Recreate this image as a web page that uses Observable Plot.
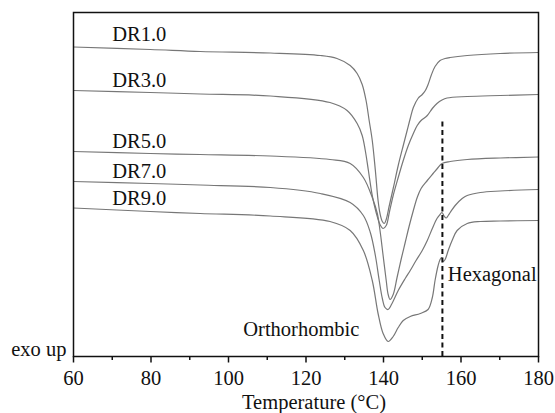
<!DOCTYPE html>
<html><head><meta charset="utf-8">
<script src="https://cdn.jsdelivr.net/npm/d3@7"></script>
<script src="https://cdn.jsdelivr.net/npm/@observablehq/plot@0.6"></script>
<style>body{margin:0;background:#fff} svg{display:block} svg text{font-family:"Liberation Serif","Times New Roman",serif !important}</style>
</head><body><div id="chart"></div>
<script>
// Temperature (°C), heat flow (a.u., exo up)
const seriesNames = ["DR1.0", "DR3.0", "DR5.0", "DR7.0", "DR9.0"];
const dr1 = [[60,30.95],[79.8,30.7],[92.7,30.5],[110.8,30.35],[123.7,30.1],[128.0,29.8],[131.4,29.1],[133.2,28.3],[134.5,27.2],[135.5,25.6],[136.3,23.6],[137.1,21.6],[137.9,18.6],[138.6,15.6],[139.1,14.3],[139.7,13.5],[140.2,13.3],[140.7,13.7],[141.5,15.1],[142.5,16.8],[143.8,19.1],[145.1,21.1],[146.1,22.6],[146.9,23.8],[147.7,24.9],[148.9,25.8],[150.0,26.2],[150.8,26.6],[151.5,27.2],[152.3,28.1],[153.3,29.0],[154.6,29.6],[155.9,29.8],[157.2,29.9],[161.6,30.1],[170.1,30.3],[180,30.4]];
const dr3 = [[60,26.6],[79.8,26.4],[92.7,26.25],[110.8,26.05],[126.2,25.4],[130.6,24.6],[133.2,23.3],[134.5,22.1],[135.3,20.6],[136.1,18.6],[137.1,16.1],[138.1,14.4],[139.1,13.2],[139.9,12.8],[140.7,13.1],[141.5,14.4],[142.5,16.1],[143.8,17.9],[145.1,19.6],[146.4,21.1],[147.7,22.3],[148.7,23.1],[149.7,23.6],[151.3,24.1],[152.6,24.8],[153.8,25.3],[155.1,25.65],[156.4,25.85],[161.6,26.0],[170.1,26.1],[180,26.2]];
const dr5 = [[60,20.5],[79.8,20.3],[92.7,20.2],[110.8,20.05],[126.2,19.7],[131.4,19.3],[134.8,17.9],[137.1,15.9],[138.4,14.3],[139.1,12.6],[139.9,10.1],[140.7,7.6],[141.2,6.2],[141.7,5.7],[142.5,6.2],[143.5,7.9],[144.6,9.8],[145.6,11.4],[146.6,13.0],[147.7,14.6],[148.7,15.9],[149.7,16.8],[151.3,17.6],[152.8,18.3],[154.1,18.9],[155.1,19.3],[157.2,19.5],[161.6,19.7],[170.1,19.85],[180,19.95]];
const dr7 = [[60,17.5],[79.8,17.3],[92.7,17.15],[110.8,16.9],[123.7,16.3],[131.4,15.4],[134.8,14.1],[136.6,12.4],[137.9,10.1],[138.9,7.6],[139.7,5.8],[140.4,4.9],[141.2,4.7],[142.2,5.3],[143.8,6.6],[145.6,7.8],[146.9,8.6],[148.4,9.6],[150.0,10.6],[151.3,11.6],[152.6,12.8],[153.8,13.8],[154.6,14.2],[155.1,14.4],[155.7,14.0],[156.2,13.85],[156.7,14.1],[157.2,14.4],[158.5,15.1],[160.3,15.8],[161.6,16.1],[165.0,16.4],[170.1,16.55],[180,16.7]];
const dr9 = [[60,14.85],[79.8,14.5],[92.7,14.3],[110.8,14.05],[126.2,13.5],[131.4,12.6],[134.8,10.6],[137.1,7.6],[138.6,4.3],[139.9,2.3],[141.2,1.5],[142.5,2.0],[143.8,2.9],[145.1,3.6],[146.9,4.0],[149.5,4.3],[151.5,4.7],[152.6,5.9],[153.3,7.6],[154.1,9.1],[154.6,9.7],[155.0,9.9],[155.4,9.5],[155.9,9.7],[156.7,10.6],[157.7,11.6],[159.0,12.6],[161.6,13.3],[165.0,13.5],[170.1,13.55],[180,13.6]];

const labelTemp = [70, 70, 70, 70, 70];
const labelHeat = [31.6, 27.0, 20.9, 17.9, 15.2];

const transitionTemp = [155.2];
const transitionTop = [23.8];

const phaseNames = ["Orthorhombic", "Hexagonal"];
const phaseTemp = [118.8, 156.6];
const phaseHeat = [2.1, 7.6];

const majorTicks = [60, 80, 100, 120, 140, 160, 180];
const minorTicks = [70, 90, 110, 130, 150, 170];

const curves = [dr1, dr3, dr5, dr7, dr9];
const table = curves.flatMap((c, i) => c.map(([t, h]) => ({series: seriesNames[i], t, h})));
const labels = seriesNames.map((s, i) => ({s, t: labelTemp[i], h: labelHeat[i]}));
const phases = phaseNames.map((s, i) => ({s, t: phaseTemp[i], h: phaseHeat[i]}));
const rules = transitionTemp.map((t, i) => ({t, top: transitionTop[i]}));

const FS = 20.5;
const FF = "Liberation Serif";
const chart = Plot.plot({
  width: 555,
  height: 413,
  marginLeft: 73,
  marginRight: 17,
  marginTop: 12,
  marginBottom: 57,
  style: {fontFamily: FF, color: "#111", background: "#fff"},
  x: {domain: [60, 180]},
  y: {domain: [0, 34.4], axis: null},
  marks: [
    Plot.line(table, {x: "t", y: "h", z: "series", stroke: "#777", strokeWidth: 1.2, curve: "catmull-rom"}),
    Plot.ruleX(rules, {x: "t", y1: 0, y2: "top", stroke: "#111", strokeWidth: 2, strokeDasharray: "5,3.5"}),
    Plot.text(labels, {x: "t", y: "h", text: "s", textAnchor: "start", lineAnchor: "bottom", fontSize: FS, fontFamily: FF, fill: "#111"}),
    Plot.text(phases.slice(0, 1), {x: "t", y: "h", text: "s", textAnchor: "middle", lineAnchor: "bottom", fontSize: FS, fontFamily: FF, fill: "#111"}),
    Plot.text(phases.slice(1), {x: "t", y: "h", text: "s", textAnchor: "start", lineAnchor: "bottom", fontSize: FS, fontFamily: FF, fill: "#111"}),
    Plot.text(["exo up"], {frameAnchor: "bottom-left", dx: -7, dy: -1, textAnchor: "end", lineAnchor: "bottom", fontSize: FS, fontFamily: FF, fill: "#111"}),
    Plot.axisX(majorTicks, {tickSize: 0, tickPadding: 14, fontSize: FS, fontFamily: FF, label: null}),
    Plot.ruleX(majorTicks, {x: d => d, y1: 0, y2: -0.65, stroke: "#111", strokeWidth: 1.5}),
    Plot.ruleX(minorTicks, {x: d => d, y1: 0, y2: -0.4, stroke: "#111", strokeWidth: 1.5}),
    Plot.text(["Temperature (°C)"], {frameAnchor: "bottom", dx: 8, dy: 52.5, lineAnchor: "bottom", fontSize: FS, fontFamily: FF, fill: "#111"}),
    Plot.frame({stroke: "#111", strokeWidth: 1.5})
  ]
});
document.getElementById("chart").appendChild(chart);
</script>
</body></html>
